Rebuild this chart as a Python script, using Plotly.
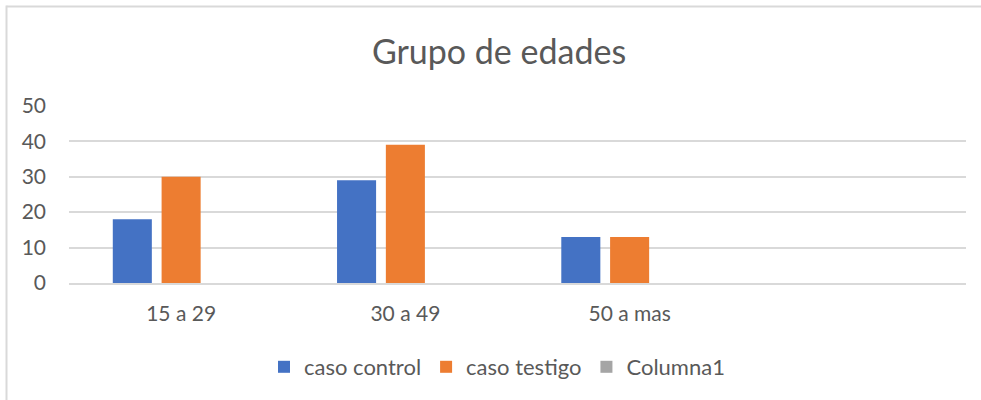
import plotly.graph_objects as go

categories = ["15 a 29", "30 a 49", "50 a mas"]
caso_control = [18, 29, 13]
caso_testigo = [30, 39, 13]
columna1 = [0, 0, 0]
y_ticks = [0, 10, 20, 30, 40, 50]

FONT = "Lato, Carlito, Calibri, sans-serif"
TXT = "#595959"
GRID = "#D9D9D9"

L, R, T, B = 69, 966, 105, 283
W, H = 981, 400


def px(x):
    return (x - L) / (R - L)


def py(y):
    return (B - y) / (B - T)


fig = go.Figure()
fig.add_trace(go.Bar(name="caso control", x=categories, y=caso_control,
                     marker=dict(color="#4472C4", line=dict(width=0))))
fig.add_trace(go.Bar(name="caso testigo", x=categories, y=caso_testigo,
                     marker=dict(color="#ED7D31", line=dict(width=0))))
fig.add_trace(go.Bar(name="Columna1", x=categories, y=columna1,
                     marker=dict(color="#A5A5A5", line=dict(width=0))))

fig.update_layout(
    width=W, height=H,
    margin=dict(l=L, r=W - R, t=T, b=H - B, pad=0),
    paper_bgcolor="white", plot_bgcolor="white",
    barmode="group", bargap=0.347, bargroupgap=0.2,
    font=dict(family=FONT, color=TXT, size=21),
    title=dict(text="Grupo de edades", x=499 / W, xref="container", xanchor="center",
               y=1 - 52 / H, yref="container", yanchor="middle",
               font=dict(family=FONT, size=34, color=TXT)),
    showlegend=True,
    legend=dict(orientation="h", x=px(497), xanchor="center",
                y=py(367), yanchor="middle",
                font=dict(family=FONT, size=22, color=TXT), traceorder="normal",
                itemwidth=30, bgcolor="rgba(0,0,0,0)"),
    xaxis=dict(type="category", range=[-0.5, 3.5], showgrid=False, zeroline=False,
               showline=True, linecolor=GRID, linewidth=1.5,
               tickfont=dict(family=FONT, size=21, color=TXT), ticks="",
               ticklabelstandoff=11, fixedrange=True),
    yaxis=dict(range=[0, 50.2], tickvals=y_ticks, showgrid=True, gridcolor=GRID, gridwidth=1.5,
               zeroline=False, showline=False, ticks="",
               tickfont=dict(family=FONT, size=21, color=TXT),
               ticklabelstandoff=22, fixedrange=True),
    shapes=[
        dict(type="line", xref="paper", yref="paper",
             x0=px(6.5), x1=px(W + 5), y0=py(6.5), y1=py(6.5),
             line=dict(color=GRID, width=2), layer="below"),
        dict(type="line", xref="paper", yref="paper",
             x0=px(6.5), x1=px(6.5), y0=py(5.5), y1=py(H + 5),
             line=dict(color=GRID, width=2), layer="below"),
    ],
)

fig.write_html(
    "out.html", config={"displayModeBar": False},
    post_script=("document.body.style.margin='0';"
                 "document.body.style.overflow='hidden';"
                 "document.documentElement.style.overflow='hidden';"),
)
